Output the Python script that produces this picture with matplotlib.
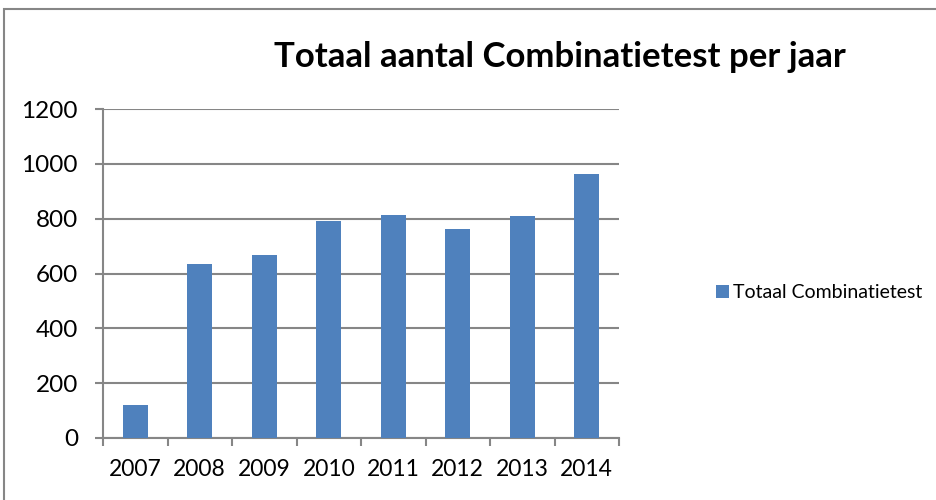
import matplotlib
matplotlib.use("Agg")
import matplotlib.pyplot as plt
from matplotlib.patches import Rectangle
import numpy as np

years = ["2007", "2008", "2009", "2010", "2011", "2012", "2013", "2014"]
values = [122, 636, 668, 790, 813, 763, 810, 964]
y_ticks = [0, 200, 400, 600, 800, 1000, 1200]
series_name = "Totaal Combinatietest"
title = "Totaal aantal Combinatietest per jaar"

plt.rcParams['font.family'] = ['Lato', 'DejaVu Sans']
W, H = 936, 500
fig = plt.figure(figsize=(W/100, H/100), dpi=100)
grey = "#868686"

# outer chart frame
fig.patches.append(Rectangle((4/W, -0.5), 1.2, 0.5 + (H-9)/H, transform=fig.transFigure,
                             fill=False, edgecolor=grey, linewidth=1.5))

ax = fig.add_axes([103/W, (H-438)/H, (619-103)/W, (438-109)/H])
x = np.arange(len(years))
bars = ax.bar(x, values, width=0.39, color="#4F81BD", label=series_name, zorder=3)

ax.set_ylim(0, 1200)
ax.set_yticks(y_ticks)
ax.set_xlim(-0.5, len(years) - 0.5)
ax.set_xticks(np.arange(-0.5, len(years)), labels=[""] * (len(years) + 1))
ax.set_xticks(x, labels=years, minor=True)
ax.tick_params(axis='x', which='minor', length=0, pad=15, labelsize=16.5)
ax.tick_params(axis='x', which='major', length=6, width=1.5, color=grey, direction='out')
ax.tick_params(axis='y', length=6, width=1.5, color=grey, direction='out', pad=12, labelsize=17.5)
ax.grid(axis='y', color=grey, linewidth=1.5, zorder=0)
for s in ['top', 'right']:
    ax.spines[s].set_visible(False)
for s in ['left', 'bottom']:
    ax.spines[s].set_color(grey)
    ax.spines[s].set_linewidth(1.5)

fig.text(560/W, (H-57)/H, title, ha='center', va='center', fontsize=25, fontweight='bold')

fig.legend(handles=[bars], labels=[series_name], loc='center left',
           bbox_to_anchor=(716/W, (H-293)/H), frameon=False, fontsize=14,
           handlelength=0.67, handleheight=0.67, handletextpad=0.2, borderpad=0, borderaxespad=0)

fig.savefig("out.png", dpi=100)
